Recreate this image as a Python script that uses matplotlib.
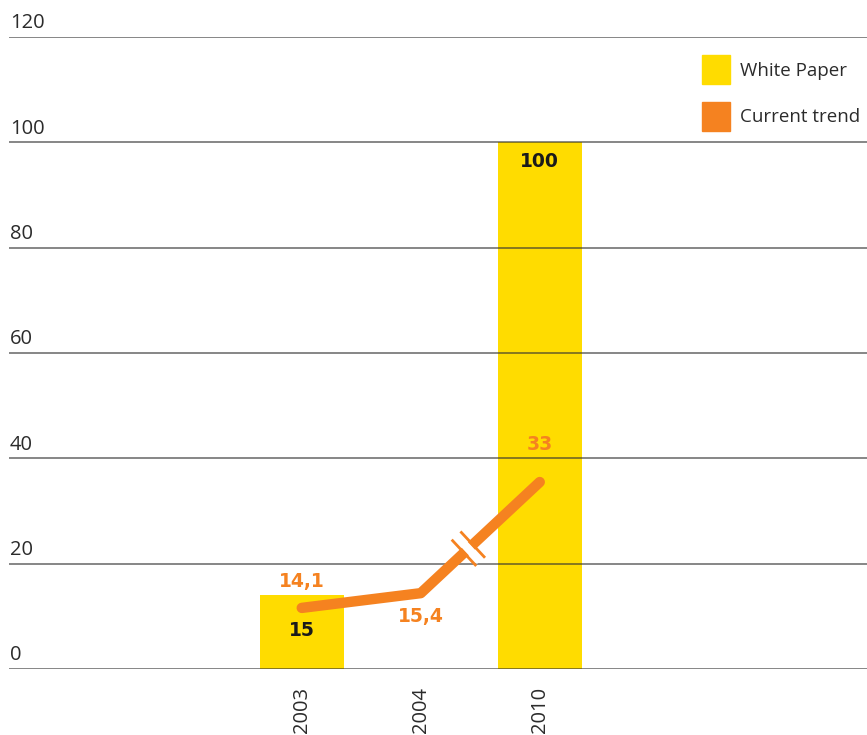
import matplotlib.pyplot as plt
import matplotlib.transforms as mtransforms
import numpy as np

plt.rcParams['font.family'] = ['Open Sans', 'DejaVu Sans']

# data
years = ['2003', '2004', '2010']
bar_years = ['2003', '2010']
bar_values = [14.1, 100]          # White Paper bars (as drawn)
bar_labels = ['15', '100']
trend_values = [11.6, 14.4, 35.5]  # Current trend line (as drawn)
trend_labels = ['14,1', '15,4', '33']
y_ticks = [0, 20, 40, 60, 80, 100, 120]

yellow = '#FFDC00'
orange = '#F58220'
txt = '#2b2b2b'
fs = 14.5
bold = dict(fontsize=13.5, fontweight='bold', family=['DejaVu Sans'], ha='center', va='center', zorder=5)

fig = plt.figure(figsize=(8.67, 7.35), dpi=100)
ax = fig.add_axes([9 / 867, 66 / 735, 858 / 867, 632 / 735])
ax.set_xlim(-2.46, 4.75)
ax.set_ylim(0, 120)
ax.axis('off')

xpos = {y: i for i, y in enumerate(years)}
bx = [xpos[y] for y in bar_years]
ax.bar(bx, bar_values, width=0.706, color=yellow, zorder=1)

# gridlines with labels above, drawn over the bars
trans = mtransforms.blended_transform_factory(ax.transAxes, ax.transData)
for t in y_ticks:
    ax.axhline(t, color='#333333', lw=1.1, alpha=0.75, zorder=2)
    ax.text(0.001, t + 0.7, str(t), transform=trans, fontsize=fs, color=txt, ha='left', va='bottom')

tx = [xpos[y] for y in years]
ax.plot(tx, trend_values, color=orange, lw=7.5, solid_capstyle='round', solid_joinstyle='round', zorder=3)

# break marks on the 2004-2010 segment
fig.canvas.draw()
p0 = ax.transData.transform((tx[1], trend_values[1]))
p1 = ax.transData.transform((tx[2], trend_values[2]))
d = (p1 - p0) / np.linalg.norm(p1 - p0)
nrm = np.array([-d[1], d[0]])
mid = p0 + (p1 - p0) * 0.4
inv = ax.transData.inverted()
for off, col, lw, half in [(0, 'white', 6, 17), (-6, orange, 2, 18), (6, orange, 2, 18)]:
    c = mid + d * off
    a, b = inv.transform([c - nrm * half, c + nrm * half])
    ax.plot([a[0], b[0]], [a[1], b[1]], color=col, lw=lw, solid_capstyle='butt', zorder=4)

# value labels
ax.text(bx[0], 7.3, bar_labels[0], color='#1a1a1a', **bold)
ax.text(bx[1], 96.4, bar_labels[1], color='#1a1a1a', **bold)
ax.text(tx[0], 16.6, trend_labels[0], color=orange, **bold)
ax.text(tx[1], 10.0, trend_labels[1], color=orange, **bold)
ax.text(tx[2], 42.7, trend_labels[2], color=orange, **bold)

# year labels, rotated
for i, y in enumerate(years):
    ax.text(tx[i], -3.4, y, rotation=90, ha='center', va='top', fontsize=fs, color=txt, clip_on=False)

# legend
fig.patches.append(plt.Rectangle((702 / 867, 1 - 84 / 735), 28 / 867, 29 / 735, transform=fig.transFigure, color=yellow))
fig.patches.append(plt.Rectangle((702 / 867, 1 - 131 / 735), 28 / 867, 29 / 735, transform=fig.transFigure, color=orange))
fig.text(740 / 867, 1 - 71 / 735, 'White Paper', fontsize=13.5, color=txt, va='center', ha='left')
fig.text(740 / 867, 1 - 117 / 735, 'Current trend', fontsize=13.5, color=txt, va='center', ha='left')

fig.savefig('out.png', dpi=100)
